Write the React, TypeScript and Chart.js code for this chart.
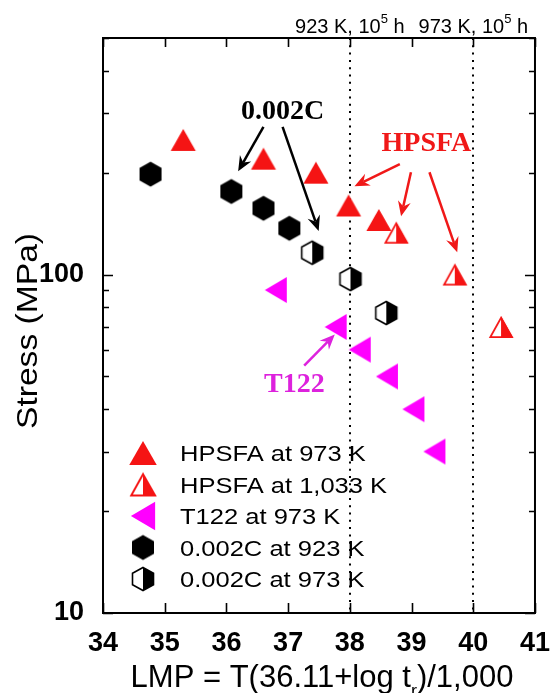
import React, { useEffect, useRef } from "react";
import { Chart, registerables } from "chart.js";

Chart.register(...registerables);

// ---------- data ----------
const seriesNames = [
  "HPSFA at 973 K",
  "HPSFA at 1,033 K",
  "T122 at 973 K",
  "0.002C at 923 K",
  "0.002C at 973 K",
];
const hpsfa973X = [35.3, 36.6, 37.45, 37.98, 38.47];
const hpsfa973Y = [250, 220, 200, 160, 145];
const hpsfa1033X = [38.75, 39.7, 40.45];
const hpsfa1033Y = [133, 100, 70];
const t122X = [36.8, 37.77, 38.16, 38.6, 39.03, 39.37];
const t122Y = [90, 70, 60, 50, 40, 30];
const c923X = [34.77, 36.08, 36.6, 37.02];
const c923Y = [198, 176, 157, 137];
const c973X = [37.39, 38.01, 38.59];
const c973Y = [116, 97, 77];

const xTicks = [34, 35, 36, 37, 38, 39, 40, 41];
const yTickLabels = [10, 100];
const refLines = [38, 40];
const refLabels = ["923 K, 10", "973 K, 10"];

// annotations (data coordinates)
const noteTexts = [
  { text: "0.002C", x: 36.91, y: 288, color: "#000" },
  { text: "HPSFA", x: 39.24, y: 232, color: "#f01818" },
  { text: "T122", x: 37.1, y: 45.1, color: "#dd22dd" },
];
const noteArrows = [
  { x0: 36.6, y0: 273, x1: 36.19, y1: 202, color: "#000" },
  { x0: 36.91, y0: 273, x1: 37.495, y1: 134.6, color: "#000" },
  { x0: 38.81, y0: 212, x1: 38.075, y1: 182.4, color: "#f01818" },
  { x0: 38.99, y0: 200.6, x1: 38.83, y1: 148.7, color: "#f01818" },
  { x0: 39.29, y0: 200.6, x1: 39.74, y1: 116.3, color: "#f01818" },
  { x0: 37.26, y0: 53.8, x1: 37.756, y1: 66.5, color: "#dd22dd" },
];

const SANS = "'Liberation Sans', Arial, Helvetica, sans-serif";
const SERIF = "'Liberation Serif', 'Times New Roman', serif";
const RED = "#f51414";
const MAGENTA = "#ff00ff";

type Pt = [number, number];
function poly(ctx: CanvasRenderingContext2D, pts: Pt[]) {
  ctx.beginPath();
  ctx.moveTo(pts[0][0], pts[0][1]);
  for (let i = 1; i < pts.length; i++) ctx.lineTo(pts[i][0], pts[i][1]);
  ctx.closePath();
}

function makeMarker(kind: string, s = 1): HTMLCanvasElement {
  const W = 2 * Math.ceil(16 * s);
  const c = document.createElement("canvas");
  c.width = W;
  c.height = W;
  const ctx = c.getContext("2d")!;
  const cx = W / 2;
  const cy = W / 2;
  ctx.lineJoin = "miter";
  if (kind === "tri" || kind === "halfTri") {
    const w = 25 * s, h = 22 * s;
    const pts: Pt[] = [[cx, cy - h / 2], [cx + w / 2, cy + h / 2], [cx - w / 2, cy + h / 2]];
    if (kind === "tri") {
      ctx.fillStyle = RED;
      poly(ctx, pts);
      ctx.fill();
    } else {
      const lw = 1.8 * s;
      const p2: Pt[] = [[cx, cy - h / 2 + lw], [cx + w / 2 - lw, cy + h / 2 - lw / 2], [cx - w / 2 + lw, cy + h / 2 - lw / 2]];
      ctx.fillStyle = "#fff";
      poly(ctx, p2);
      ctx.fill();
      ctx.fillStyle = RED;
      poly(ctx, [[cx, cy - h / 2], [cx + w / 2, cy + h / 2], [cx, cy + h / 2]]);
      ctx.fill();
      ctx.strokeStyle = RED;
      ctx.lineWidth = lw;
      poly(ctx, p2);
      ctx.stroke();
    }
  } else if (kind === "left") {
    const w = 22 * s, h = 26 * s;
    ctx.fillStyle = MAGENTA;
    poly(ctx, [[cx - w / 2, cy], [cx + w / 2, cy - h / 2], [cx + w / 2, cy + h / 2]]);
    ctx.fill();
  } else {
    const w = (kind === "hex" ? 22 : 21) * s, h = (kind === "hex" ? 25 : 23) * s;
    const pts: Pt[] = [
      [cx, cy - h / 2], [cx + w / 2, cy - h / 4], [cx + w / 2, cy + h / 4],
      [cx, cy + h / 2], [cx - w / 2, cy + h / 4], [cx - w / 2, cy - h / 4],
    ];
    if (kind === "hex") {
      ctx.fillStyle = "#000";
      poly(ctx, pts);
      ctx.fill();
    } else {
      ctx.fillStyle = "#fff";
      poly(ctx, pts);
      ctx.fill();
      ctx.fillStyle = "#000";
      poly(ctx, [pts[0], pts[1], pts[2], pts[3]]);
      ctx.fill();
      ctx.strokeStyle = "#000";
      ctx.lineWidth = 1.6 * s;
      poly(ctx, pts);
      ctx.stroke();
    }
  }
  return c;
}

function drawArrow(ctx: CanvasRenderingContext2D, x0: number, y0: number, x1: number, y1: number, color: string) {
  const ang = Math.atan2(y1 - y0, x1 - x0);
  const hl = 15, hw = 6.5, notch = 10;
  const cs = Math.cos(ang), sn = Math.sin(ang);
  const bx = x1 - hl * cs, by = y1 - hl * sn;
  const nx = x1 - notch * cs, ny = y1 - notch * sn;
  ctx.strokeStyle = color;
  ctx.fillStyle = color;
  ctx.lineWidth = 2.5;
  ctx.setLineDash([]);
  ctx.beginPath();
  ctx.moveTo(x0, y0);
  ctx.lineTo(nx, ny);
  ctx.stroke();
  ctx.beginPath();
  ctx.moveTo(x1, y1);
  ctx.lineTo(bx + hw * sn, by - hw * cs);
  ctx.lineTo(nx, ny);
  ctx.lineTo(bx - hw * sn, by + hw * cs);
  ctx.closePath();
  ctx.fill();
}

function stretchText(ctx: CanvasRenderingContext2D, text: string, x: number, y: number, sx: number) {
  ctx.save();
  ctx.translate(x, y);
  ctx.scale(sx, 1);
  ctx.fillText(text, 0, 0);
  ctx.restore();
}

export default function App() {
  const ref = useRef<HTMLCanvasElement | null>(null);

  useEffect(() => {
    const canvas = ref.current;
    if (!canvas) return;

    const mk = {
      tri: makeMarker("tri"),
      halfTri: makeMarker("halfTri"),
      left: makeMarker("left"),
      hex: makeMarker("hex"),
      halfHex: makeMarker("halfHex"),
    };
    const lg = [
      makeMarker("tri", 1.1),
      makeMarker("halfTri", 1.1),
      makeMarker("left", 1.1),
      makeMarker("hex", 1.0),
      makeMarker("halfHex", 1.0),
    ];

    const pts = (xs: number[], ys: number[]) => xs.map((x, i) => ({ x, y: ys[i] }));

    const overlay = {
      id: "overlay",
      beforeDatasetsDraw(chart: any) {
        const { ctx, chartArea: a, scales } = chart;
        const xs = scales.x;
        ctx.save();
        ctx.strokeStyle = "#000";
        ctx.lineWidth = 2;
        ctx.setLineDash([2, 5.3]);
        refLines.forEach((v) => {
          const px = Math.round(xs.getPixelForValue(v));
          ctx.beginPath();
          ctx.moveTo(px, a.top);
          ctx.lineTo(px, a.bottom);
          ctx.stroke();
        });
        ctx.restore();
      },
      afterDatasetsDraw(chart: any) {
        const { ctx, chartArea: a, scales } = chart;
        const xs = scales.x, ys = scales.y;
        ctx.save();
        ctx.setLineDash([]);
        // frame
        ctx.strokeStyle = "#000";
        ctx.lineWidth = 2;
        ctx.strokeRect(a.left, a.top, a.right - a.left, a.bottom - a.top);
        // x ticks
        ctx.lineWidth = 1.6;
        xTicks.forEach((v) => {
          const px = Math.round(xs.getPixelForValue(v)) + 0.5;
          ctx.beginPath();
          ctx.moveTo(px, a.bottom);
          ctx.lineTo(px, a.bottom - 10);
          ctx.moveTo(px, a.top);
          ctx.lineTo(px, a.top + 9);
          ctx.stroke();
        });
        // y ticks (major + minor)
        for (let d = 10; d <= 100; d *= 10) {
          for (let k = 1; k <= 9; k++) {
            const v = k * d;
            if (v > 500 || v < 10) continue;
            const len = k === 1 ? 10 : 6;
            const py = Math.round(ys.getPixelForValue(v)) + 0.5;
            ctx.beginPath();
            ctx.moveTo(a.left, py);
            ctx.lineTo(a.left + len, py);
            ctx.moveTo(a.right, py);
            ctx.lineTo(a.right - len, py);
            ctx.stroke();
          }
        }
        // annotations
        noteArrows.forEach((r) => {
          drawArrow(ctx, xs.getPixelForValue(r.x0), ys.getPixelForValue(r.y0), xs.getPixelForValue(r.x1), ys.getPixelForValue(r.y1), r.color);
        });
        ctx.font = `bold 28px ${SERIF}`;
        ctx.textAlign = "center";
        ctx.textBaseline = "alphabetic";
        noteTexts.forEach((t) => {
          ctx.fillStyle = t.color;
          ctx.fillText(t.text, xs.getPixelForValue(t.x), ys.getPixelForValue(t.y));
        });
        // legend
        ctx.textAlign = "left";
        ctx.fillStyle = "#000";
        ctx.font = `22px ${SANS}`;
        seriesNames.forEach((name, i) => {
          const base = 461 + i * 31.5;
          const img = lg[i];
          ctx.drawImage(img, 143 - img.width / 2, base - 8 - img.height / 2);
          stretchText(ctx, name, 180, base, 1.16);
        });
        // top labels
        refLines.forEach((v, i) => {
          const cx = xs.getPixelForValue(v);
          ctx.font = `20px ${SANS}`;
          const w1 = ctx.measureText(refLabels[i]).width;
          const w3 = ctx.measureText(" h").width;
          ctx.font = `13px ${SANS}`;
          const w2 = ctx.measureText("5").width;
          const x0 = cx - (w1 + w2 + w3) / 2;
          ctx.font = `20px ${SANS}`;
          ctx.fillText(refLabels[i], x0, 33);
          ctx.font = `13px ${SANS}`;
          ctx.fillText("5", x0 + w1, 23);
          ctx.font = `20px ${SANS}`;
          ctx.fillText(" h", x0 + w1 + w2, 33);
        });
        // x title
        {
          const main = "LMP = T(36.11+log t";
          const sub = "r";
          const tail = ")/1,000";
          ctx.font = `31px ${SANS}`;
          const w1 = ctx.measureText(main).width;
          const w3 = ctx.measureText(tail).width;
          ctx.font = `18px ${SANS}`;
          const w2 = ctx.measureText(sub).width;
          const x0 = 322 - (w1 + w2 + w3) / 2;
          ctx.font = `31px ${SANS}`;
          ctx.fillText(main, x0, 687);
          ctx.font = `18px ${SANS}`;
          ctx.fillText(sub, x0 + w1, 697);
          ctx.font = `31px ${SANS}`;
          ctx.fillText(tail, x0 + w1 + w2, 687);
        }
        // y title
        ctx.save();
        ctx.translate(37, 331);
        ctx.rotate(-Math.PI / 2);
        ctx.textAlign = "center";
        ctx.font = `30px ${SANS}`;
        ctx.scale(1.12, 1);
        ctx.fillText("Stress (MPa)", 0, 0);
        ctx.restore();
        ctx.restore();
      },
    };

    const chart = new Chart(canvas, {
      type: "scatter",
      data: {
        datasets: [
          { label: seriesNames[0], data: pts(hpsfa973X, hpsfa973Y), pointStyle: mk.tri as any, pointRadius: 10 },
          { label: seriesNames[1], data: pts(hpsfa1033X, hpsfa1033Y), pointStyle: mk.halfTri as any, pointRadius: 10 },
          { label: seriesNames[2], data: pts(t122X, t122Y), pointStyle: mk.left as any, pointRadius: 10 },
          { label: seriesNames[3], data: pts(c923X, c923Y), pointStyle: mk.hex as any, pointRadius: 10 },
          { label: seriesNames[4], data: pts(c973X, c973Y), pointStyle: mk.halfHex as any, pointRadius: 10 },
        ],
      },
      options: {
        responsive: false,
        animation: false,
        events: [],
        layout: { padding: { top: 38, right: 15, left: 0, bottom: 0 } },
        plugins: {
          legend: { display: false },
          tooltip: { enabled: false },
        },
        scales: {
          x: {
            type: "linear",
            min: 34,
            max: 41,
            grid: { display: false },
            border: { display: false },
            afterBuildTicks: (s: any) => {
              s.ticks = xTicks.map((v) => ({ value: v }));
            },
            afterFit: (s: any) => {
              s.height = 80;
            },
            ticks: {
              color: "#000",
              font: { family: SANS, size: 27, weight: "bold" },
              padding: 6,
              maxRotation: 0,
              autoSkip: false,
            },
          },
          y: {
            type: "logarithmic",
            min: 10,
            max: 500,
            grid: { display: false },
            border: { display: false },
            afterFit: (s: any) => {
              s.width = 103;
            },
            ticks: {
              color: "#000",
              font: { family: SANS, size: 27, weight: "bold" },
              padding: 11,
              autoSkip: false,
              callback: (v: any) => (yTickLabels.includes(Number(v)) ? String(v) : ""),
            },
          },
        },
      },
      plugins: [overlay],
    });

    return () => chart.destroy();
  }, []);

  return (
    <div style={{ position: "fixed", left: 0, top: 0, width: 556, height: 693, background: "#fff" }}>
      <canvas ref={ref} width={556} height={693} style={{ width: 556, height: 693, display: "block" }} />
    </div>
  );
}
